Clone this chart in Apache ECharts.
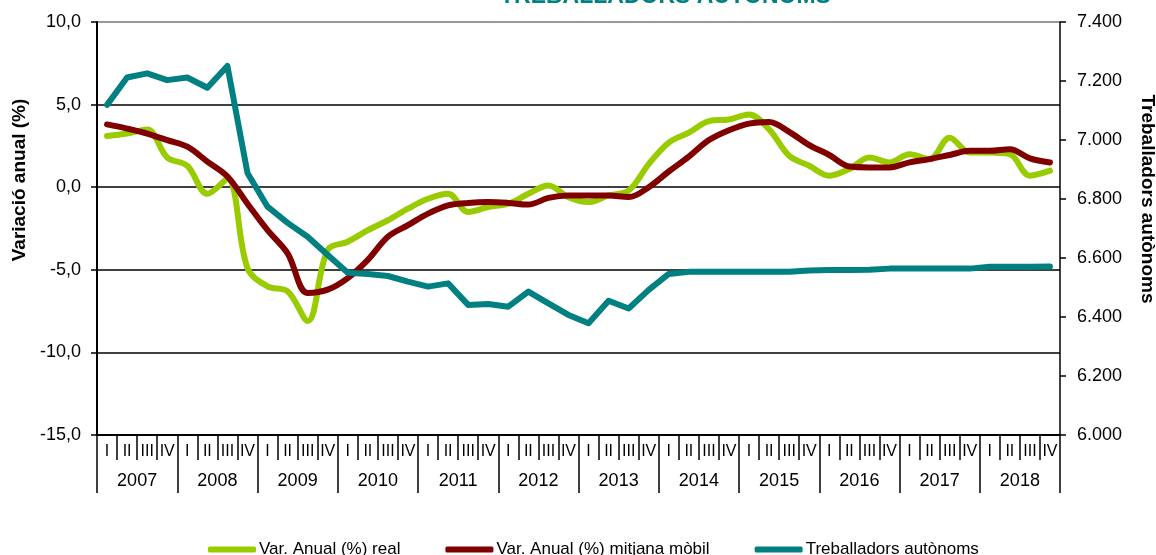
<!DOCTYPE html>
<html>
<head>
<meta charset="utf-8">
<title>Treballadors autònoms</title>
<script src="https://cdn.jsdelivr.net/npm/echarts@6/dist/echarts.min.js"></script>
<style>
  html, body { margin: 0; padding: 0; background: #fff; }
  #chart { width: 1156px; height: 555px; }
</style>
</head>
<body>
<div id="chart"></div>
<script>
// trimestres i anys
var quarters = [];
var years = ['2007', '2008', '2009', '2010', '2011', '2012', '2013', '2014', '2015', '2016', '2017', '2018'];
years.forEach(function () { quarters.push('I', 'II', 'III', 'IV'); });

// Var. anual (%) real
var varReal = [3.1, 3.25, 3.5, 1.8, 1.3, -0.4, 0.5, -4.9, -6.0, -6.3, -8.1, -3.8,
               -3.3, -2.6, -2.0, -1.3, -0.7, -0.4, -1.5, -1.2, -1.0, -0.4, 0.1, -0.6,
               -0.9, -0.5, -0.2, 1.4, 2.7, 3.3, 4.0, 4.1, 4.4, 3.5, 1.9, 1.3,
               0.7, 1.1, 1.8, 1.5, 2.0, 1.7, 3.0, 2.1, 2.1, 2.0, 0.7, 1.0];
// Var. anual (%) mitjana mòbil
var varMobil = [3.8, 3.55, 3.25, 2.85, 2.45, 1.55, 0.65, -1.0, -2.6, -4.0, -6.4, -6.2,
                -5.5, -4.4, -3.0, -2.3, -1.6, -1.1, -0.95, -0.9, -0.95, -1.05, -0.65, -0.5,
                -0.5, -0.5, -0.6, 0.0, 0.95, 1.85, 2.85, 3.45, 3.85, 3.95, 3.35, 2.55,
                1.95, 1.25, 1.2, 1.2, 1.5, 1.7, 1.95, 2.2, 2.2, 2.3, 1.75, 1.5];
// Treballadors autònoms (eix dret)
var autonoms = [7119, 7212, 7226, 7203, 7212, 7177, 7251, 6888, 6774, 6719, 6672, 6610,
                6550, 6546, 6539, 6520, 6503, 6514, 6441, 6444, 6435, 6486, 6446, 6407,
                6379, 6455, 6429, 6492, 6546, 6553, 6553, 6553, 6553, 6553, 6553, 6558,
                6559, 6559, 6560, 6564, 6564, 6564, 6564, 6564, 6570, 6570, 6570, 6571];

var font = 'Arial, "Liberation Sans", sans-serif';

var myChart = echarts.init(document.getElementById('chart'));
var option = {
    animation: false,
    textStyle: { fontFamily: font, color: '#000' },
    title: {
        text: 'TREBALLADORS AUTÒNOMS',
        left: 495,
        top: -20,
        textStyle: { color: '#008080', fontSize: 23, fontWeight: 'bold', fontFamily: font }
    },
    legend: {
        left: 203,
        top: 536,
        itemGap: 45,
        itemWidth: 48,
        itemHeight: 6,
        icon: 'roundRect',
        textStyle: { fontSize: 17, color: '#000', fontFamily: font, padding: [0, 0, 0, -2] },
        data: ['Var. Anual (%) real', 'Var. Anual (%) mitjana mòbil', 'Treballadors autònoms']
    },
    grid: { left: 97, right: 96, top: 22, bottom: 120 },
    graphic: [
        {
            type: 'text', x: 20, y: 180, rotation: Math.PI / 2,
            style: { text: 'Variació anual (%)', font: 'bold 19px ' + font, fill: '#000',
                     textAlign: 'center', textVerticalAlign: 'middle' }
        },
        {
            type: 'text', x: 1147, y: 199, rotation: -Math.PI / 2,
            style: { text: 'Treballadors autònoms', font: 'bold 19px ' + font, fill: '#000',
                     textAlign: 'center', textVerticalAlign: 'middle' }
        }
    ],
    xAxis: [
        {
            type: 'category',
            data: quarters,
            boundaryGap: true,
            axisLine: { show: true, onZero: false, lineStyle: { color: '#000', width: 2 } },
            axisTick: { show: true, interval: 0, length: 25, lineStyle: { color: '#000', width: 1.5 } },
            axisLabel: { show: true, interval: 0, margin: 9, fontSize: 16, color: '#000' },
            splitLine: { show: false }
        },
        {
            type: 'category',
            data: years,
            position: 'bottom',
            boundaryGap: true,
            axisLine: { show: true, onZero: false, lineStyle: { color: '#000', width: 0, opacity: 0 } },
            axisTick: { show: true, interval: 0, length: 58, lineStyle: { color: '#000', width: 1.5 } },
            axisLabel: { show: true, interval: 0, margin: 37, fontSize: 18, color: '#000' },
            splitLine: { show: false }
        }
    ],
    yAxis: [
        {
            type: 'value',
            min: -15, max: 10, interval: 5,
            axisLine: { show: true, lineStyle: { color: '#000', width: 2 } },
            axisTick: { show: true, length: 6, lineStyle: { color: '#000', width: 1.5 } },
            axisLabel: {
                margin: 16, fontSize: 18, color: '#000',
                formatter: function (v) { return v.toFixed(1).replace('.', ','); }
            },
            splitLine: { lineStyle: { color: ['#000', '#000', '#000', '#000', '#000', '#777'], width: 1.5 } }
        },
        {
            type: 'value',
            min: 6000, max: 7400, interval: 200,
            position: 'right',
            axisLine: { show: true, lineStyle: { color: '#000', width: 1.5 } },
            axisTick: { show: true, length: 6, lineStyle: { color: '#000', width: 1.5 } },
            axisLabel: {
                margin: 17, fontSize: 18, color: '#000',
                formatter: function (v) { return (v / 1000).toFixed(3); }
            },
            splitLine: { show: false }
        }
    ],
    series: [
        {
            name: 'Var. Anual (%) real',
            type: 'line',
            data: varReal,
            smooth: 0.35,
            symbol: 'none',
            lineStyle: { color: '#99CC00', width: 6, cap: 'round', join: 'round' },
            itemStyle: { color: '#99CC00' }
        },
        {
            name: 'Var. Anual (%) mitjana mòbil',
            type: 'line',
            data: varMobil,
            smooth: 0.35,
            symbol: 'none',
            lineStyle: { color: '#800000', width: 6, cap: 'round', join: 'round' },
            itemStyle: { color: '#800000' }
        },
        {
            name: 'Treballadors autònoms',
            type: 'line',
            yAxisIndex: 1,
            data: autonoms,
            symbol: 'none',
            lineStyle: { color: '#008080', width: 6, cap: 'round', join: 'round' },
            itemStyle: { color: '#008080' }
        }
    ]
};
myChart.setOption(option);
</script>
</body>
</html>
